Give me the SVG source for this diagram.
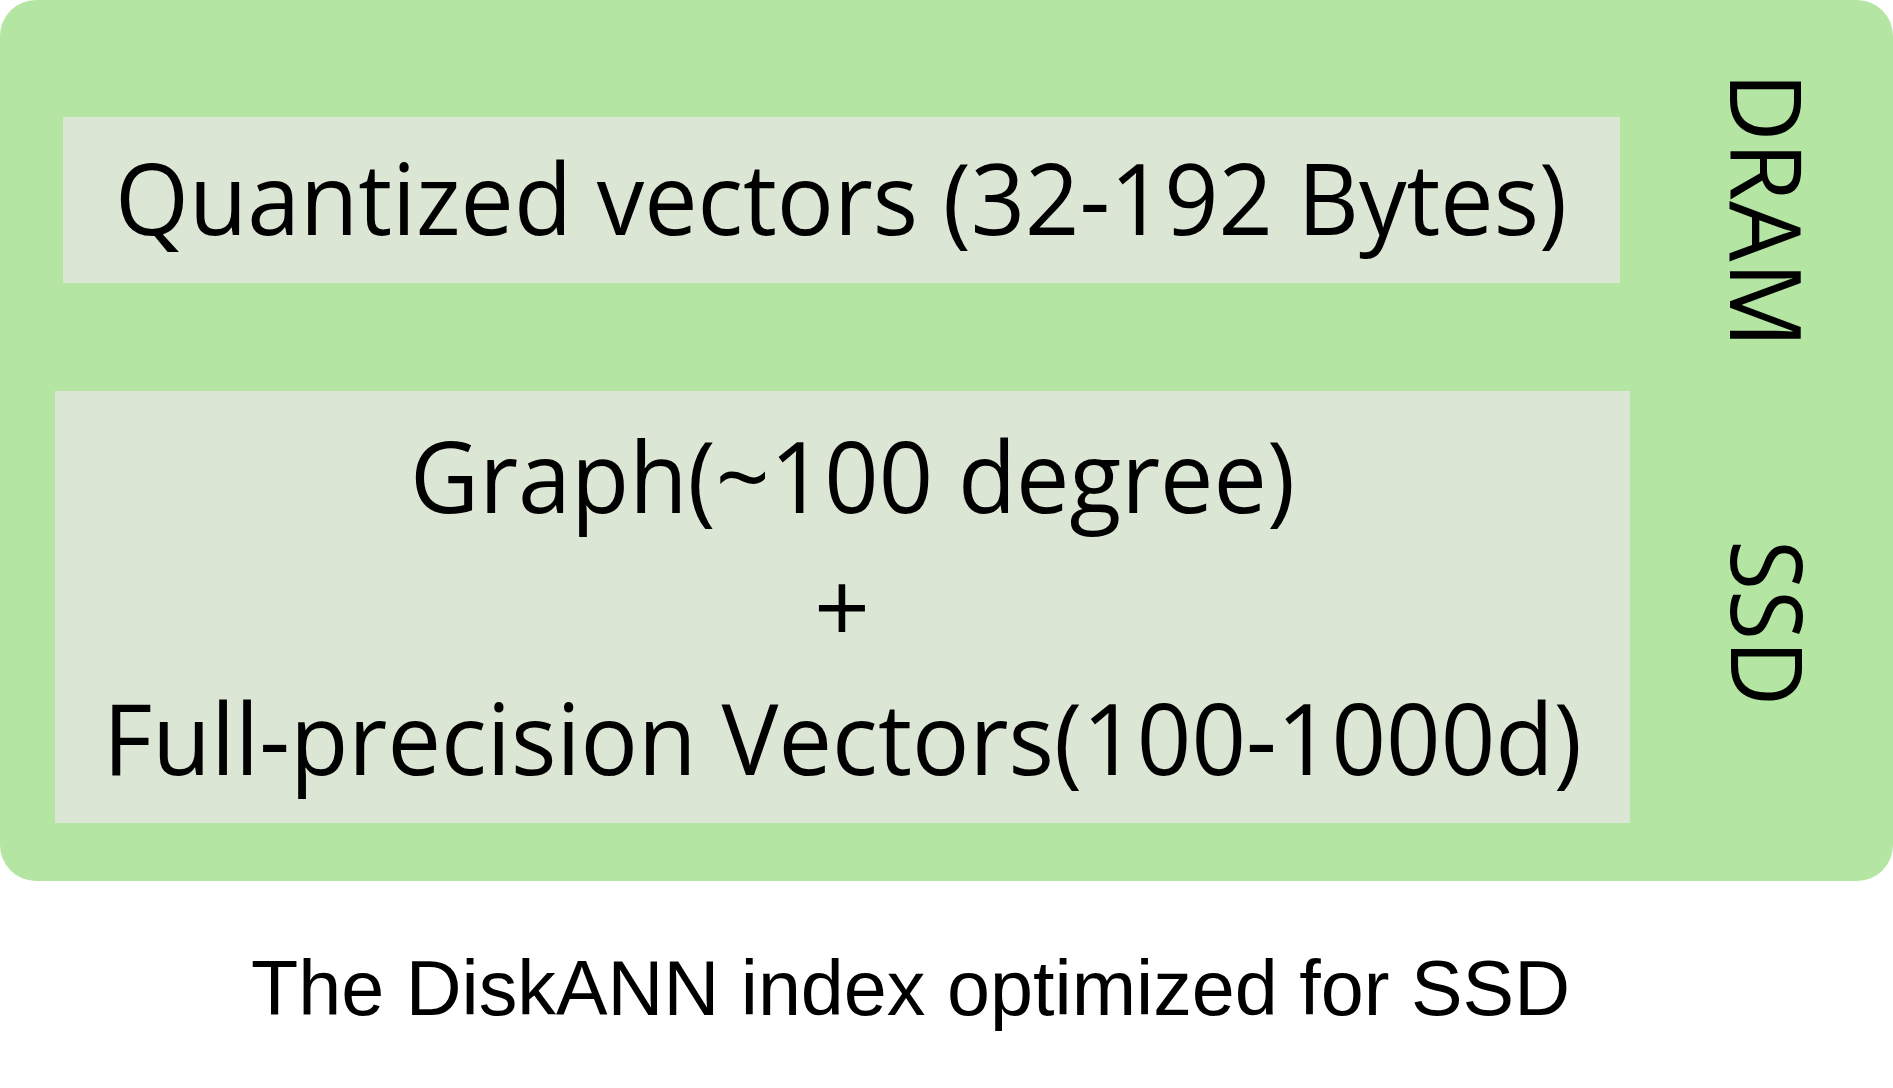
<svg xmlns="http://www.w3.org/2000/svg" width="1893" height="1088" viewBox="0 0 1893 1088">
<style>
.outer{fill:#b4e5a2}
.inner{fill:#dbe7d4}
.t{font-family:"Open Sans","Noto Sans",sans-serif;font-size:98px;fill:#000}
.c{font-family:"Liberation Sans",Arial,sans-serif;font-size:77px;fill:#000}
</style>
<rect width="1893" height="1088" fill="#ffffff"/>
<g id="container">
<rect class="outer" x="0" y="0" width="1893" height="881" rx="36" ry="36"/>
</g>
<g id="dram-box">
<rect class="inner" x="63" y="117" width="1557" height="166"/>
<text class="t" x="115" y="235" textLength="1452" lengthAdjust="spacingAndGlyphs">Quantized vectors (32-192 Bytes)</text>
</g>
<g id="ssd-box">
<rect class="inner" x="55" y="391" width="1575" height="432"/>
<text class="t" x="410" y="513" textLength="885" lengthAdjust="spacingAndGlyphs">Graph(~100 degree)</text>
<text class="t" x="842" y="643" text-anchor="middle">+</text>
<text class="t" x="103" y="775" textLength="1479" lengthAdjust="spacingAndGlyphs">Full-precision Vectors(100-1000d)</text>
</g>
<g id="dram-label">
<text class="t" transform="translate(1730,72) rotate(90)" textLength="276" lengthAdjust="spacingAndGlyphs">DRAM</text>
</g>
<g id="ssd-label">
<text class="t" transform="translate(1731,540) rotate(90)" textLength="166" lengthAdjust="spacingAndGlyphs">SSD</text>
</g>
<g id="connectors"></g>
<text class="c" x="251" y="1015" textLength="1319" lengthAdjust="spacingAndGlyphs">The DiskANN index optimized for SSD</text>
</svg>
